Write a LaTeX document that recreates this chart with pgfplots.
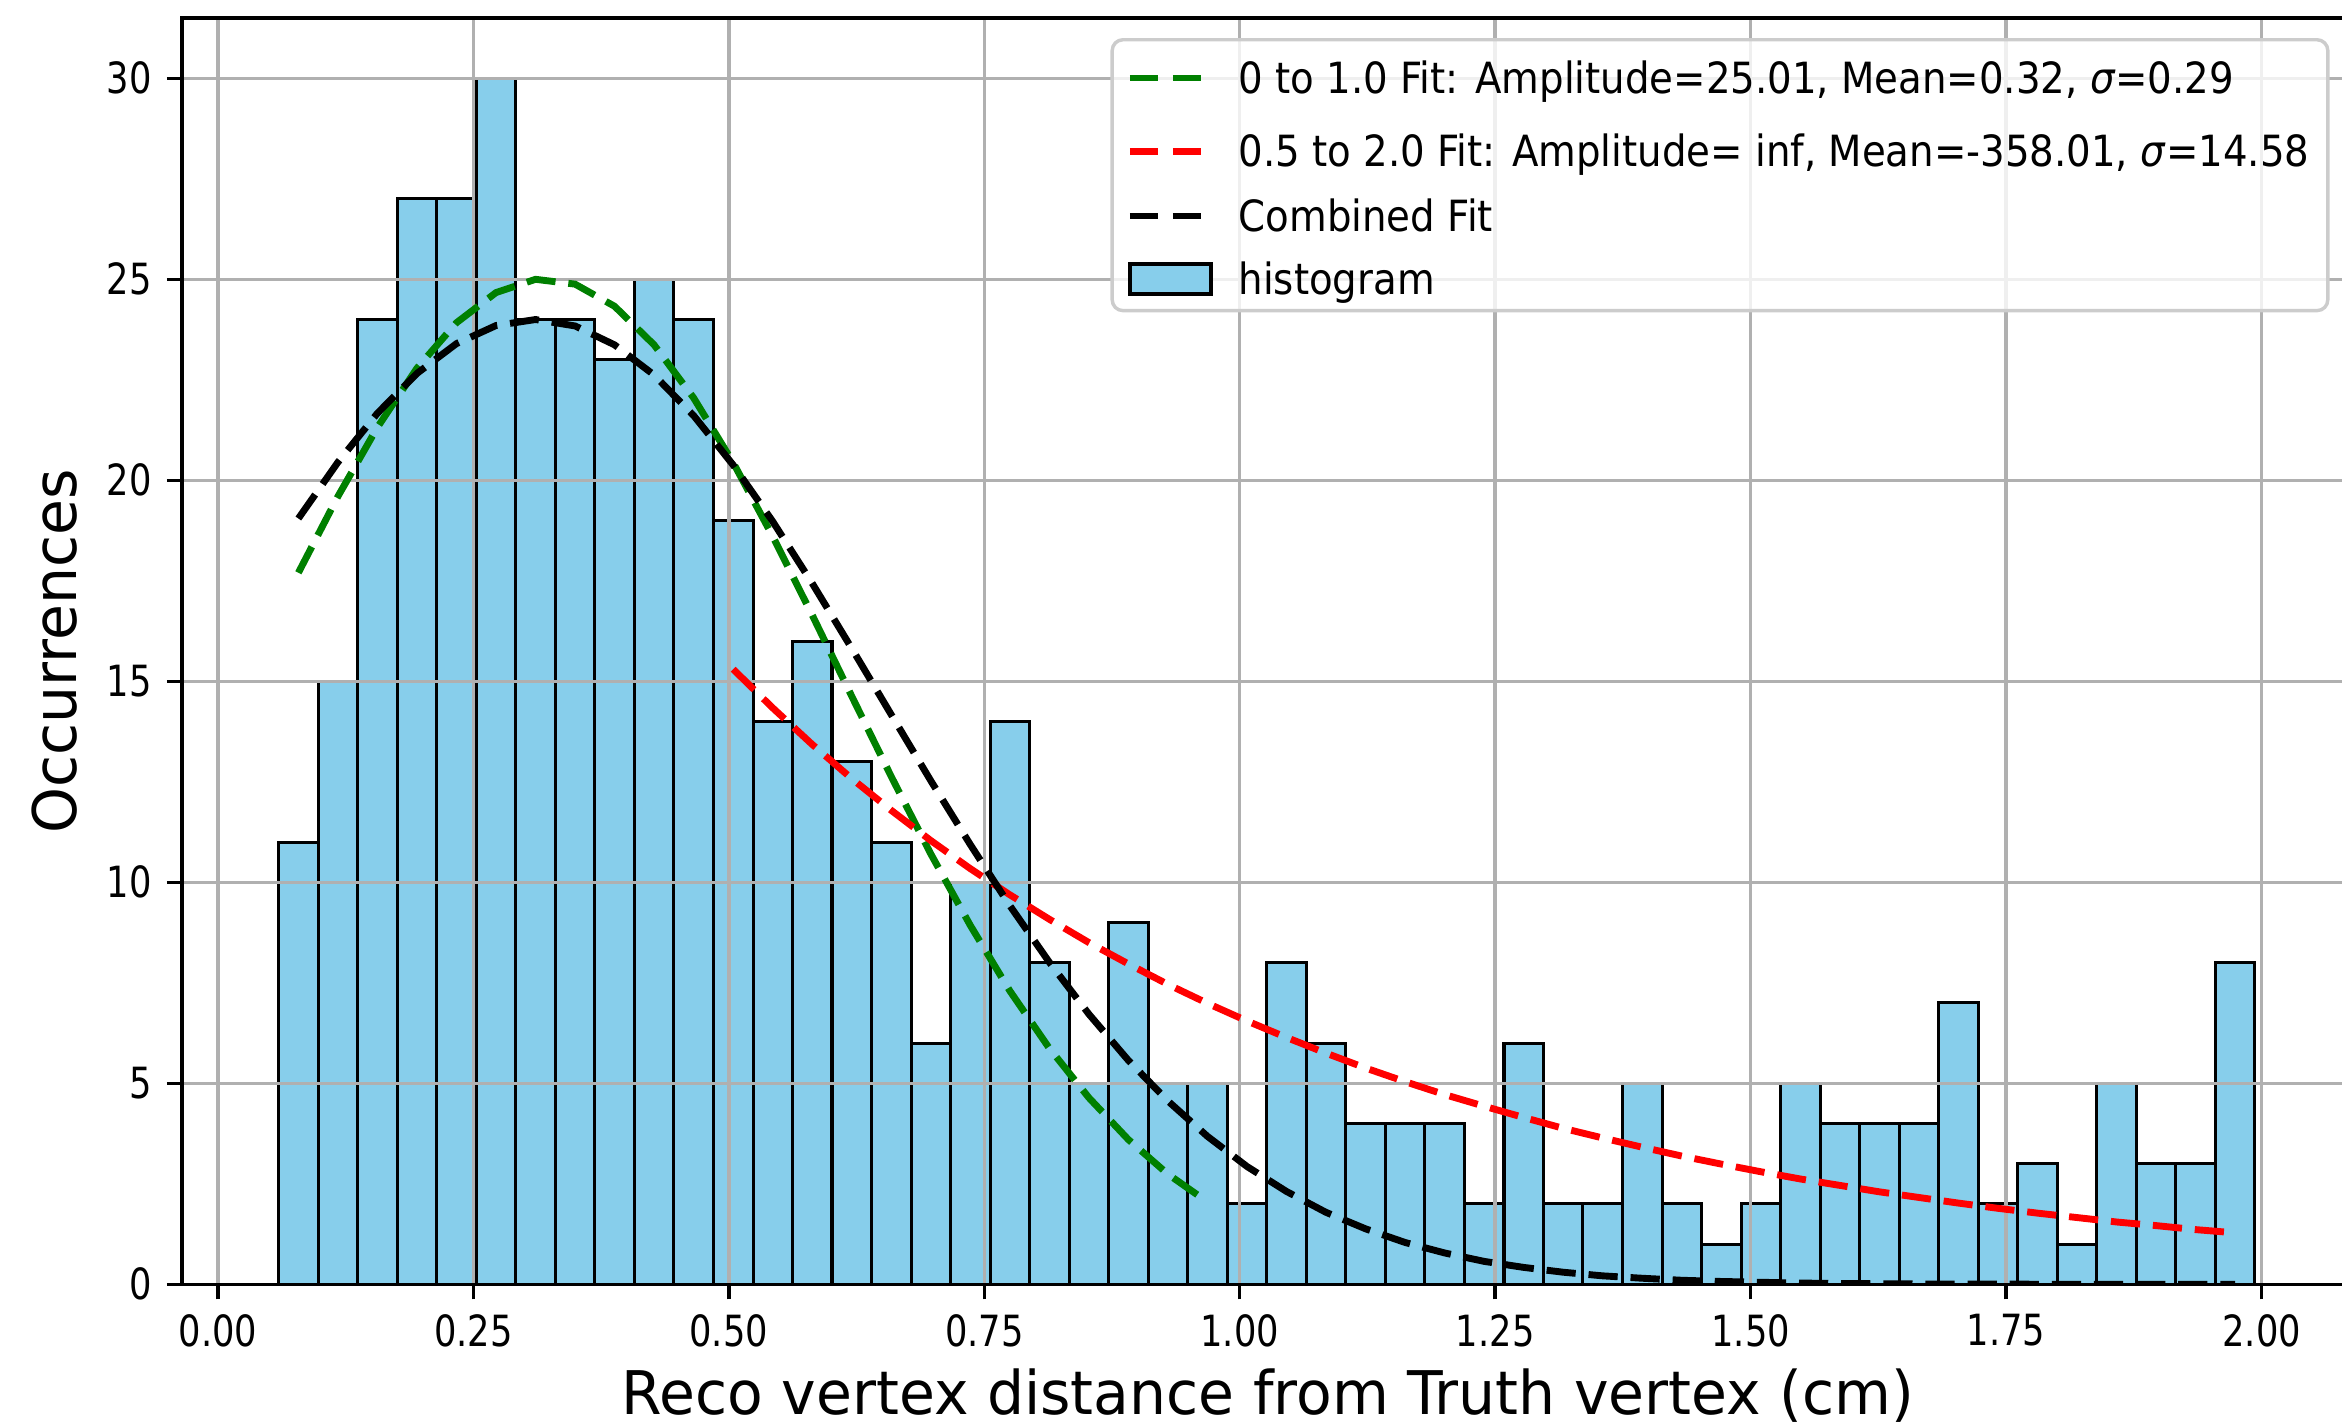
\documentclass[border=0pt]{standalone}
\usepackage{fontspec}
\setmainfont{DejaVu Sans}
\newfontfamily\tickfont{DejaVu Sans}[FakeStretch=0.82]
\newfontfamily\legfont{DejaVu Sans}[FakeStretch=0.9]
\newfontfamily\labfont{DejaVu Sans}[FakeStretch=0.97]
\usepackage{pgfplots}
\pgfplotsset{compat=1.18}
\definecolor{skyblue}{RGB}{135,206,235}
\definecolor{mplgreen}{RGB}{0,128,0}
\definecolor{mplred}{RGB}{255,0,0}
\definecolor{gridgray}{HTML}{B0B0B0}
\definecolor{legedge}{HTML}{CCCCCC}

\begin{document}
\begin{tikzpicture}
\begin{axis}[
  scale only axis,
  width=505.1pt, height=294.5pt,
  xmin=-0.0352, xmax=2.09, ymin=0, ymax=31.5,
  set layers, clip mode=individual,
  xtick={0,0.25,0.5,0.75,1,1.25,1.5,1.75,2},
  ytick={0,5,10,15,20,25,30},
  tick pos=left, tick align=outside,
  major tick length=3.5pt,
  tick style={black, line width=0.8pt},
  axis line style={black, line width=0.8pt},
  xmajorgrids, ymajorgrids,
  grid style={gridgray, line width=0.8pt},
  /pgf/number format/assume math mode=true,
  xticklabel style={/pgf/number format/fixed, /pgf/number format/fixed zerofill,
    /pgf/number format/precision=2},
  tick label style={font=\tickfont\fontsize{10}{12}\selectfont},
  label style={font=\labfont\fontsize{14}{17}\selectfont},
  xlabel={Reco vertex distance from Truth vertex (cm)},
  ylabel={Occurrences},
  x label style={at={(axis description cs:0.5,-0.1029)}, anchor=base},
  y label style={at={(axis description cs:-0.0483,0.5)}, anchor=base},
  legend cell align=left,
  legend style={at={(1,1)}, anchor=north east, xshift=-5.6pt, yshift=-4.65pt,
    draw=legedge, line width=0.8pt, rounded corners=2.5pt,
    fill=white, fill opacity=0.8, draw opacity=1, text opacity=1,
    font=\legfont\fontsize{10}{12}\selectfont,
    inner xsep=3.3pt, inner ysep=0.3pt, row sep=1pt,
    nodes={inner sep=1pt},
    /tikz/every odd column/.append style={column sep=5pt}},
  legend image code/.code={\draw[#1, sharp corners, dash pattern=on 6.5pt off 3.5pt]
    (0pt,0pt) -- (16.5pt,0pt);},
]

% histogram of the distances (bin edges, counts)
\addplot[ybar interval, fill=skyblue, draw=black, line width=0.7pt,
  on layer=axis background, forget plot] coordinates {
  (0.0595,11) (0.0982,15) (0.1369,24) (0.1755,27) (0.2142,27) (0.2529,30)
  (0.2916,24) (0.3303,24) (0.3689,23) (0.4076,25) (0.4463,24) (0.4850,19)
  (0.5237,14) (0.5623,16) (0.6010,13) (0.6397,11) (0.6784,6) (0.7171,10)
  (0.7557,14) (0.7944,8) (0.8331,5) (0.8718,9) (0.9105,5) (0.9491,5)
  (0.9878,2) (1.0265,8) (1.0652,6) (1.1039,4) (1.1425,4) (1.1812,4)
  (1.2199,2) (1.2586,6) (1.2973,2) (1.3359,2) (1.3746,5) (1.4133,2)
  (1.4520,1) (1.4907,2) (1.5293,5) (1.5680,4) (1.6067,4) (1.6454,4)
  (1.6841,7) (1.7227,2) (1.7614,3) (1.8001,1) (1.8388,5) (1.8775,3)
  (1.9161,3) (1.9548,8) (1.9935,8)
};

% Gaussian fit on 0 -- 1.0, evaluated at the bin centres
\addplot[mplgreen, line width=1.6pt, dash pattern=on 6.8pt off 3pt] coordinates {
  (0.0788,17.70) (0.1175,19.60) (0.1562,21.32) (0.1949,22.79) (0.2335,23.92)
  (0.2722,24.67) (0.3109,25.00) (0.3496,24.88) (0.3882,24.33) (0.4269,23.37)
  (0.4656,22.05) (0.5043,20.44) (0.5429,18.61) (0.5816,16.65) (0.6203,14.63)
  (0.6590,12.63) (0.6976,10.71) (0.7363,8.93) (0.7750,7.30) (0.8137,5.87)
  (0.8524,4.64) (0.8910,3.60) (0.9297,2.74) (0.9684,2.05)
};
\addlegendentry[text height=11.2pt, text depth=4pt]{0 to 1.0 Fit: Amplitude=25.01, Mean=0.32, \textit{σ}=0.29}

% Gaussian fit on 0.5 -- 2.0
\addplot[mplred, line width=1.6pt, dash pattern=on 6.8pt off 3pt] coordinates {
  (0.5043,15.30) (0.5429,14.34) (0.5816,13.43) (0.6203,12.58) (0.6590,11.79)
  (0.6976,11.04) (0.7363,10.34) (0.7750,9.69) (0.8137,9.08) (0.8524,8.50)
  (0.8910,7.97) (0.9297,7.46) (0.9684,6.99) (1.0071,6.55) (1.0457,6.14)
  (1.0844,5.75) (1.1231,5.38) (1.1618,5.04) (1.2004,4.72) (1.2391,4.43)
  (1.2778,4.15) (1.3165,3.88) (1.3551,3.64) (1.3938,3.41) (1.4325,3.19)
  (1.4712,2.99) (1.5098,2.80) (1.5485,2.62) (1.5872,2.46) (1.6259,2.30)
  (1.6645,2.16) (1.7032,2.02) (1.7419,1.89) (1.7806,1.77) (1.8192,1.66)
  (1.8579,1.55) (1.8966,1.46) (1.9353,1.36) (1.9740,1.28)
};
\addlegendentry[text height=10pt, text depth=2.8pt]{0.5 to 2.0 Fit: Amplitude= inf, Mean=-358.01, \textit{σ}=14.58}

% combined fit over the full range
\addplot[black, line width=1.6pt, dash pattern=on 6.8pt off 3pt] coordinates {
  (0.0788,19.05) (0.1175,20.45) (0.1562,21.67) (0.1949,22.66) (0.2335,23.40)
  (0.2722,23.85) (0.3109,24.00) (0.3496,23.84) (0.3882,23.37) (0.4269,22.62)
  (0.4656,21.61) (0.5043,20.38) (0.5429,18.98) (0.5816,17.44) (0.6203,15.82)
  (0.6590,14.17) (0.6976,12.53) (0.7363,10.94) (0.7750,9.42) (0.8137,8.01)
  (0.8524,6.72) (0.8910,5.57) (0.9297,4.56) (0.9684,3.68) (1.0071,2.93)
  (1.0457,2.31) (1.0844,1.79) (1.1231,1.38) (1.1618,1.04) (1.2004,0.78)
  (1.2391,0.57) (1.2778,0.42) (1.3165,0.30) (1.3551,0.21) (1.3938,0.15)
  (1.4325,0.10) (1.4712,0.07) (1.5098,0.05) (1.5485,0.03) (1.5872,0.02)
  (1.6259,0.013) (1.6645,0.009) (1.7032,0.005) (1.7419,0.003) (1.7806,0.002)
  (1.8192,0.001) (1.8579,0.001) (1.8966,0.0005) (1.9353,0.0003) (1.9740,0.0002)
};
\addlegendentry[text height=9.3pt, text depth=2.1pt]{Combined Fit}

\addlegendimage{legend image code/.code={\draw[fill=skyblue, fill opacity=1, draw=black,
    line width=1pt, sharp corners] (0pt,-3.5pt) rectangle (18.8pt,3.5pt);}}
\addlegendentry[text height=9.6pt, text depth=2.4pt]{histogram}
\end{axis}
\pgfresetboundingbox
\path[use as bounding box] ([shift={(-42.3pt,-32.9pt)}]current axis.south west)
  rectangle +(544.7pt,331.6pt);
\end{tikzpicture}
\end{document}
